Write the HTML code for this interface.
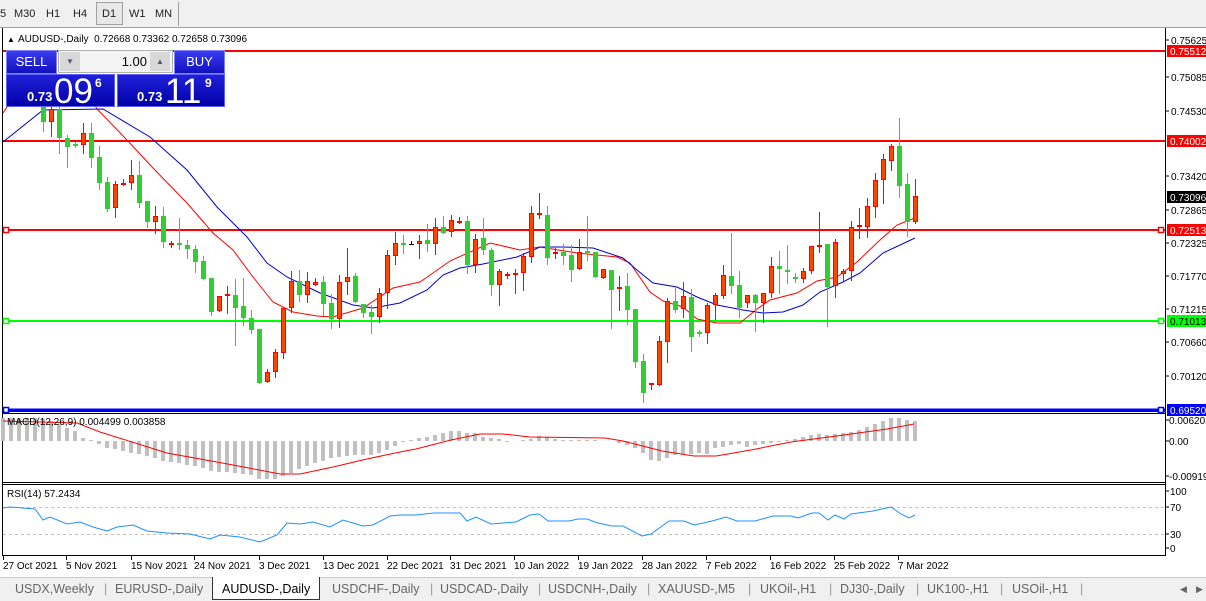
<!DOCTYPE html>
<html><head><meta charset="utf-8">
<style>
*{margin:0;padding:0;box-sizing:border-box}
body{width:1206px;height:601px;overflow:hidden;background:#fff;font-family:"Liberation Sans",Arial,sans-serif;position:relative}
.tb{position:absolute;left:0;top:0;width:1206px;height:28px;background:#f0f0f0;border-bottom:1px solid #a0a0a0}
.tb span{position:absolute;top:8px;font-size:11px;color:#222}
.d1{position:absolute;left:96px;top:2px;width:27px;height:23px;border:1px solid #a0a0a0;background:#e8e8e8}
.panel{position:absolute;font-family:"Liberation Sans",sans-serif;color:#fff}
.btn{position:absolute;background:linear-gradient(#3c3cf0,#1010c0);border:1px solid #8080ff;text-align:center;font-size:13px;line-height:22px}
.big{position:absolute;background:linear-gradient(#2020d8,#0000a8);border:1px solid #6060ff}
.tabs{position:absolute;left:0;top:577px;width:1206px;height:24px;background:#f0f0f0;border-top:1px solid #c8c8c8}
.tabs span{position:absolute;top:4px;font-size:12.5px;color:#666}
</style></head><body>
<div class="tb">
<span style="left:0">5</span><span style="left:14px">M30</span><span style="left:46px">H1</span><span style="left:73px">H4</span>
<div class="d1"></div><span style="left:102px">D1</span><span style="left:129px">W1</span><span style="left:155px">MN</span>
<div style="position:absolute;left:178px;top:2px;width:1px;height:24px;background:#a0a0a0"></div>
</div>
<svg id="s" width="1206" height="601" style="position:absolute;left:0;top:0"></svg>
<div class="panel" style="left:0;top:0">
 <div class="btn" style="left:6px;top:50px;width:51px;height:24px">SELL</div>
 <div style="position:absolute;left:58px;top:50px;width:115px;height:23px;background:#f4f4f4;border:1px solid #b0b0b0"></div>
 <div style="position:absolute;left:60px;top:52px;width:20px;height:19px;background:#d8d8d8;color:#557;font-size:8px;text-align:center;line-height:19px">▼</div>
 <div style="position:absolute;left:150px;top:52px;width:20px;height:19px;background:#d8d8d8;color:#557;font-size:8px;text-align:center;line-height:19px">▲</div>
 <div style="position:absolute;left:100px;top:52px;width:47px;color:#000;font-size:13px;text-align:right;line-height:19px">1.00</div>
 <div class="btn" style="left:174px;top:50px;width:51px;height:24px">BUY</div>
 <div class="big" style="left:6px;top:74px;width:109px;height:33px">
  <span style="position:absolute;left:20px;top:14px;font-size:13px;font-weight:bold">0.73</span>
  <span style="position:absolute;left:47px;top:-3px;font-size:35px">09</span>
  <span style="position:absolute;left:88px;top:1px;font-size:12px;font-weight:bold">6</span>
 </div>
 <div class="big" style="left:117px;top:74px;width:108px;height:33px">
  <span style="position:absolute;left:19px;top:14px;font-size:13px;font-weight:bold">0.73</span>
  <span style="position:absolute;left:47px;top:-3px;font-size:35px">11</span>
  <span style="position:absolute;left:87px;top:1px;font-size:12px;font-weight:bold">9</span>
 </div>
</div>
<div class="tabs">
 <span style="left:15px">USDX,Weekly</span><span style="left:104px;color:#999">|</span>
 <span style="left:115px">EURUSD-,Daily</span>
 <div style="position:absolute;left:212px;top:-1px;width:108px;height:23px;background:#fff;border:1px solid #333;border-top:none"></div>
 <span style="left:222px;color:#000">AUDUSD-,Daily</span>
 <span style="left:332px">USDCHF-,Daily</span><span style="left:430px;color:#999">|</span>
 <span style="left:440px">USDCAD-,Daily</span><span style="left:538px;color:#999">|</span>
 <span style="left:548px">USDCNH-,Daily</span><span style="left:647px;color:#999">|</span>
 <span style="left:658px">XAUUSD-,M5</span><span style="left:748px;color:#999">|</span>
 <span style="left:760px">UKOil-,H1</span><span style="left:829px;color:#999">|</span>
 <span style="left:840px">DJ30-,Daily</span><span style="left:916px;color:#999">|</span>
 <span style="left:927px">UK100-,H1</span><span style="left:1000px;color:#999">|</span>
 <span style="left:1012px">USOil-,H1</span><span style="left:1080px;color:#999">|</span>
 <span style="left:1180px;font-size:9px;top:6px">◀</span><span style="left:1196px;font-size:9px;top:6px">▶</span>
</div>
<script>
var S='';
function L(x1,y1,x2,y2,c,w,extra){S+='<line x1="'+x1+'" y1="'+y1+'" x2="'+x2+'" y2="'+y2+'" stroke="'+c+'" stroke-width="'+(w||1)+'" '+(extra||'')+'/>';}
function R(x,y,w,h,f,s){S+='<rect x="'+x+'" y="'+y+'" width="'+w+'" height="'+h+'" fill="'+f+'"'+(s?' stroke="'+s+'"':'')+'/>';}
function T(x,y,t,sz,c,a){S+='<text x="'+x+'" y="'+y+'" font-size="'+(sz||10)+'" fill="'+(c||'#000')+'"'+(a||'')+'>'+t+'</text>';}
function P(pts,c,w){S+='<polyline fill="none" stroke="'+c+'" stroke-width="'+(w||1)+'" points="'+pts.map(function(p){return p.join(',')}).join(' ')+'"/>';}
L(2.5,28,2.5,556,'#000');L(1165.5,28,1165.5,556,'#000');
L(2,411.5,1166,411.5,'#000');L(2,413.5,1166,413.5,'#000');
L(2,482.5,1166,482.5,'#000');L(2,484.5,1166,484.5,'#000');
L(2,555.5,1166,555.5,'#000');
var hk=[[3,-23],[35,-23],[43,-22],[51,-20],[59,-17],[67,-13],[75,-10],[83,-3],[91,-1],[100,3],[108,7],[117,8],[123,10],[132,12],[140,13],[148,15],[157,17],[163,20],[172,21],[180,22],[188,24],[195,25],[203,27],[212,30],[220,31],[228,31],[235,32],[243,33],[252,34],[260,38],[267,38],[275,38],[283,35],[292,32],[300,27],[307,25],[315,22],[323,20],[332,17],[338,16],[347,15],[355,14],[363,14],[372,14],[380,12],[387,9],[394,5],[401,2],[410,-1],[419,-3],[426,-4],[435,-6],[442,-8],[451,-10],[459,-10],[467,-8],[475,-8],[484,-4],[491,-3],[500,-2],[507,1],[516,0],[530,-2],[539,-5],[548,-4],[555,-2],[570,-1],[590,-1],[610,0],[620,2],[628,4],[635,7],[645,13],[652,20],[660,20],[668,17],[676,14],[684,13],[692,13],[700,12],[708,13],[716,6],[724,6],[732,4],[740,3],[748,6],[756,4],[764,3],[772,2],[780,1],[788,-1],[796,-2],[804,-4],[812,-6],[820,-7],[828,-6],[836,-7],[844,-8],[852,-9],[860,-11],[868,-14],[876,-17],[884,-20],[892,-23],[900,-23],[908,-21],[916,-20]];
function interp(k,x){for(var i=0;i<k.length-1;i++){if(x<=k[i+1][0]){var a=k[i],b=k[i+1];return a[1]+(b[1]-a[1])*(x-a[0])/(b[0]-a[0]);}}return k[k.length-1][1];}
for(var x=3;x<=915;x+=8){var v=Math.round(interp(hk,x));if(v<0)R(x-2,441+v,4,-v,'#c0c0c0');else if(v>0)R(x-2,441,4,v,'#c0c0c0');}
P([[3,421],[77,423],[100,432],[167,453],[233,465],[280,474],[300,474],[333,467],[367,459],[400,452],[416,449],[451,440],[480,434],[503,434],[530,437],[605,438],[623,441],[662,451],[694,456],[716,456],[751,450],[791,442],[844,435],[887,429],[914,424]],'#ff0000',1);
L(3,507.5,1165,507.5,'#c0c0c0',1,'stroke-dasharray="3,3"');L(3,534.5,1165,534.5,'#c0c0c0',1,'stroke-dasharray="3,3"');
P([[3,508],[10,507],[35,509],[43,520],[50,517],[67,524],[80,522],[93,527],[107,531],[117,527],[133,525],[147,531],[167,533],[190,534],[210,539],[220,535],[240,537],[260,542],[277,535],[287,523],[300,524],[313,522],[330,527],[343,520],[363,526],[373,525],[390,516],[400,515],[416,515],[434,513],[451,513],[460,513],[467,521],[476,517],[491,524],[516,522],[530,515],[539,514],[548,521],[569,521],[578,519],[587,519],[598,523],[612,526],[623,526],[642,536],[651,534],[669,521],[684,521],[694,525],[712,521],[726,517],[737,521],[755,521],[773,516],[791,516],[798,518],[812,513],[819,513],[828,520],[835,515],[844,519],[851,514],[873,511],[891,507],[901,514],[909,518],[915,515]],'#1e90ff',1);
L(3,51,1165,51,'#ff0000',2);L(3,141,1165,141,'#ff0000',2);L(3,230,1165,230,'#ff0000',2);
L(3,321,1165,321,'#00ff00',2);L(3,410,1165,410,'#0000ff',3);
[[230,'#ff0000'],[321,'#00ff00'],[410,'#0000ff']].forEach(function(a){S+='<rect x="3.5" y="'+(a[0]-2.5)+'" width="5" height="5" fill="#fff" stroke="'+a[1]+'" stroke-width="1.5"/><rect x="1158.5" y="'+(a[0]-2.5)+'" width="5" height="5" fill="#fff" stroke="'+a[1]+'" stroke-width="1.5"/>';});
P([[3,113],[9,104],[92,100],[97,109],[127,140],[153,168],[187,203],[213,233],[233,250],[253,277],[273,302],[293,312],[317,316],[333,317],[363,308],[393,288],[420,282],[433,273],[450,261],[490,243],[520,250],[540,247],[577,253],[617,257],[630,263],[650,292],[663,301],[683,307],[697,319],[717,323],[740,323],[757,309],[770,300],[797,293],[817,281],[837,277],[857,262],[880,240],[897,225],[915,218]],'#ff0000',1);
P([[3,142],[43,110],[103,109],[150,137],[187,170],[217,207],[247,237],[267,263],[287,277],[320,293],[353,305],[373,308],[400,303],[427,290],[443,275],[460,268],[483,264],[517,257],[540,247],[563,247],[593,248],[623,258],[637,270],[653,283],[677,287],[697,297],[717,305],[743,310],[763,313],[783,312],[803,305],[820,292],[843,282],[860,273],[883,253],[915,238]],'#0000cc',1);
var C="g 100 122 95 131|r 109 122 100 136|g 109 138 100 153|g 138 147 135 167|g 144 146 142 147|r 133 145 123 153|g 133 158 123 167|g 157 183 146 189|g 182 209 177 211|r 184 208 181 217|r 183 185 179 185|r 175 183 160 189|g 175 203 161 207|g 201 222 201 227|r 216 222 206 233|g 216 242 207 247|r 243 245 241 247|g 243 245 218 249|g 245 249 240 258|g 249 262 245 272|g 261 279 256 279|g 278 312 278 315|r 296 311 296 311|r 294 296 286 313|g 295 308 279 345|g 306 318 278 325|g 318 330 310 333|g 329 383 329 383|r 372 382 369 382|r 352 372 349 377|r 308 353 308 358|r 281 308 271 312|g 281 295 270 301|r 281 295 272 302|r 282 285 278 285|g 282 304 276 315|g 303 319 294 328|r 282 319 275 327|r 277 282 248 294|g 276 302 273 302|g 304 313 304 317|g 312 317 305 333|r 293 317 288 322|r 255 293 250 308|r 243 256 232 264|g 243 245 235 253|k 244 244 241 244|r 241 244 235 258|g 240 244 224 251|r 227 244 218 254|g 227 233 216 233|r 220 232 215 236|r 221 223 217 223|g 221 265 216 273|r 239 265 234 272|g 238 250 218 254|g 250 285 248 295|r 271 285 269 305|r 274 276 272 278|r 273 275 269 293|r 256 273 253 290|r 213 257 206 262|r 213 215 193 218|g 215 258 206 264|r 252 253 248 258|g 252 256 244 264|g 255 270 245 281|r 252 269 239 269|g 251 253 216 260|g 252 277 252 277|r 269 278 269 278|g 270 290 270 328|r 287 289 276 310|g 286 310 273 324|g 309 362 309 367|g 361 393 354 402|r 383 385 383 389|r 341 385 336 385|r 301 342 298 362|g 301 310 287 312|r 296 309 282 317|g 297 337 289 351|g 332 334 330 336|r 305 333 303 343|r 295 305 293 319|r 275 296 265 298|g 276 286 233 293|g 285 308 271 317|r 295 303 295 307|g 295 303 294 331|r 293 303 293 322|r 266 293 257 297|g 266 269 251 293|g 270 272 245 283|g 277 279 273 282|r 271 279 268 282|r 246 271 246 273|r 245 247 212 252|g 244 287 244 326|r 242 286 239 297|r 271 274 269 280|r 227 271 221 280|r 225 227 208 238|r 206 227 198 237|r 180 207 173 217|r 159 180 154 203|r 146 161 144 170|g 146 186 118 197|g 184 222 173 236|r 196 222 179 223".split('|');
C.forEach(function(s,i){var a=s.split(' '),t=a[0],bt=+a[1],bb=+a[2],h=+a[3],l=+a[4],x=43+8*i;
 var col=t=='g'?'#32cd32':(t=='r'?'#ff0000':'#000');
 L(x+0.5,Math.min(h,bt),x+0.5,Math.max(l,bb)+1,col,1);
 if(t=='k'){L(x-2,bt+0.5,x+3,bt+0.5,'#000',1);return;}
 var hh=Math.max(bb-bt,2);
 if(t=='g')R(x-2,bt,5,hh,'#32cd32');else S+='<rect x="'+(x-1.5)+'" y="'+(bt+0.5)+'" width="4" height="'+(hh-1)+'" fill="#ff4500" stroke="#ff0000"/>';
});
[[40,'0.75625'],[77,'0.75085'],[111,'0.74530'],[176,'0.73420'],[210,'0.72865'],[243,'0.72325'],[276,'0.71770'],[309,'0.71215'],[342,'0.70660'],[376,'0.70120']].forEach(function(a){L(1166,a[0],1169,a[0],'#000');T(1171,a[0]+4,a[1]);});
[[51,'0.75512','#ff0000'],[141,'0.74002','#ff0000'],[197,'0.73096','#000'],[230,'0.72513','#ff0000'],[321,'0.71013','#00ff00'],[410,'0.69520','#0000ff']].forEach(function(a){R(1167,a[0]-6,39,12,a[2]);T(1170,a[0]+4,a[1],10,a[2]=='#00ff00'?'#000':'#fff');});
[[420,'0.006201'],[441,'0.00'],[476,'-0.00919']].forEach(function(a){L(1166,a[0],1169,a[0],'#000');T(1169,a[0]+4,a[1]);});
[[491,'100'],[507,'70'],[534,'30'],[548,'0']].forEach(function(a){L(1166,a[0],1169,a[0],'#000');T(1170,a[0]+4,a[1]);});
['27 Oct 2021','5 Nov 2021','15 Nov 2021','24 Nov 2021','3 Dec 2021','13 Dec 2021','22 Dec 2021','31 Dec 2021','10 Jan 2022','19 Jan 2022','28 Jan 2022','7 Feb 2022','16 Feb 2022','25 Feb 2022','7 Mar 2022'].forEach(function(t,i){var x=[3,66,131,194,259,323,387,450,514,578,642,706,770,834,898][i];L(x+0.5,556,x+0.5,560,'#000');T(x,569,t);});
T(7,42,'▲',8);T(18,42,'AUDUSD-,Daily&#160;&#160;0.72668 0.73362 0.72658 0.73096',10);
T(7,425,'MACD(12,26,9) 0.004499 0.003858',10);
T(7,497,'RSI(14) 57.2434',10);
document.getElementById('s').innerHTML=S;
</script>
</body></html>
